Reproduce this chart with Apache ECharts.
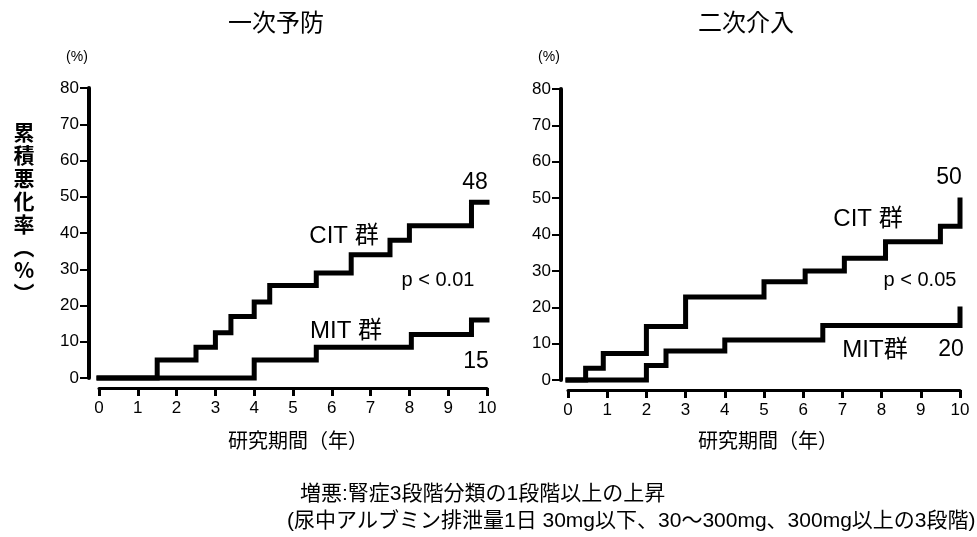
<!DOCTYPE html>
<html>
<head>
<meta charset="utf-8">
<script src="https://cdn.jsdelivr.net/npm/echarts@6/dist/echarts.min.js"></script>
<style>
html,body{margin:0;padding:0;background:#fff;}
#chart{width:977px;height:537px;}
</style>
</head>
<body>
<div id="chart"></div>
<script>
// ---- data (years, cumulative % worsening) ----
const panelTitles = ['一次予防', '二次介入'];
const leftCitX  = [0, 1.5, 2.5, 3.0, 3.4, 4.0, 4.4, 5.6, 6.5, 7.5, 8.0, 9.6, 10];
const leftCitY  = [0, 5, 8.5, 12.5, 17, 21, 25.5, 29, 34, 38, 42, 48.5, 48.5];
const leftMitX  = [0, 4.0, 5.6, 8.05, 9.6, 10];
const leftMitY  = [0, 5, 8.5, 12, 16, 16];
const rightCitX = [0, 0.45, 0.9, 2.0, 3.0, 5.0, 6.05, 7.05, 8.1, 9.5, 10];
const rightCitY = [0, 3.2, 7.3, 14.7, 22.8, 27, 30, 33.5, 38, 42.3, 49.5];
const rightMitX = [0, 2.0, 2.5, 4.0, 6.5, 10];
const rightMitY = [0, 4, 8, 11, 15, 19.5];

const zip = (xs, ys) => xs.map((x, i) => [x, ys[i]]);

const LATIN = '"Liberation Sans", Arial, "Noto Sans CJK JP", sans-serif';
const CJK = '"Noto Sans CJK JP", "Liberation Sans", sans-serif';

function xAxis(grid) {
  return {
    type: 'value', gridIndex: grid, min: 0, max: 10, interval: 1, offset: 10,
    axisLine: { show: true, onZero: false, lineStyle: { color: '#000', width: 3 } },
    axisTick: { show: true, length: 8, lineStyle: { color: '#000', width: 3 } },
    axisLabel: { color: '#000', fontSize: 17, margin: 12, fontFamily: LATIN },
    splitLine: { show: false }
  };
}
function yAxis(grid, off) {
  return {
    type: 'value', gridIndex: grid, min: 0, max: 80, interval: 10, offset: off,
    axisLine: { show: true, onZero: false, lineStyle: { color: '#000', width: 4 } },
    axisTick: { show: true, length: 9, lineStyle: { color: '#000', width: 2 } },
    axisLabel: { color: '#000', fontSize: 17, margin: 10, fontFamily: LATIN },
    splitLine: { show: false }
  };
}
function stepSeries(grid, data) {
  return {
    type: 'line', xAxisIndex: grid, yAxisIndex: grid, step: 'end',
    data: data, symbol: 'none', clip: false, animation: false,
    lineStyle: { color: '#000', width: 5, cap: 'square', join: 'miter' }
  };
}
function txt(x, y, text, size, opts) {
  opts = opts || {};
  return {
    type: 'text', x: x, y: y,
    style: {
      text: text, fill: '#000', fontSize: size,
      fontFamily: opts.family || LATIN, fontWeight: opts.weight || 'normal',
      align: opts.align || 'center', verticalAlign: opts.valign || 'middle',
      lineHeight: opts.lineHeight
    }
  };
}

const chart = echarts.init(document.getElementById('chart'), null, { renderer: 'canvas' });
chart.setOption({
  backgroundColor: '#fff',
  animation: false,
  grid: [
    { left: 99, top: 88, width: 388, height: 290 },
    { left: 568, top: 89, width: 392, height: 291 }
  ],
  xAxis: [xAxis(0), xAxis(1)],
  yAxis: [yAxis(0, 10), yAxis(1, 7)],
  series: [
    stepSeries(0, zip(leftCitX, leftCitY)),
    stepSeries(0, zip(leftMitX, leftMitY)),
    stepSeries(1, zip(rightCitX, rightCitY)),
    stepSeries(1, zip(rightMitX, rightMitY))
  ],
  graphic: [
    txt(276, 22, panelTitles[0], 24, { family: CJK }),
    txt(746, 22, panelTitles[1], 24, { family: CJK }),
    txt(77, 57, '(%)', 14),
    txt(549, 57, '(%)', 14),
    txt(24, 213, '累\n積\n悪\n化\n率\n︵\n%\n︶', 21, { family: CJK, weight: 'bold', lineHeight: 23 }),
    txt(298, 440, '研究期間（年）', 20, { family: CJK }),
    txt(768, 440, '研究期間（年）', 20, { family: CJK }),
    // left annotations
    txt(475, 183, '48', 23),
    txt(344, 236, 'CIT 群', 24),
    txt(438, 280, 'p < 0.01', 20),
    txt(346, 331, 'MIT 群', 24),
    txt(476, 362, '15', 23),
    // right annotations
    txt(949, 178, '50', 23),
    txt(868, 219, 'CIT 群', 24),
    txt(920, 280, 'p < 0.05', 20),
    txt(875, 350, 'MIT群', 24),
    txt(951, 350, '20', 23),
    // footnote
    txt(300, 494, '増悪:腎症3段階分類の1段階以上の上昇', 21, { align: 'left' }),
    txt(287, 521, '(尿中アルブミン排泄量1日 30mg以下、30〜300mg、300mg以上の3段階)', 21, { align: 'left' })
  ]
});
</script>
</body>
</html>
